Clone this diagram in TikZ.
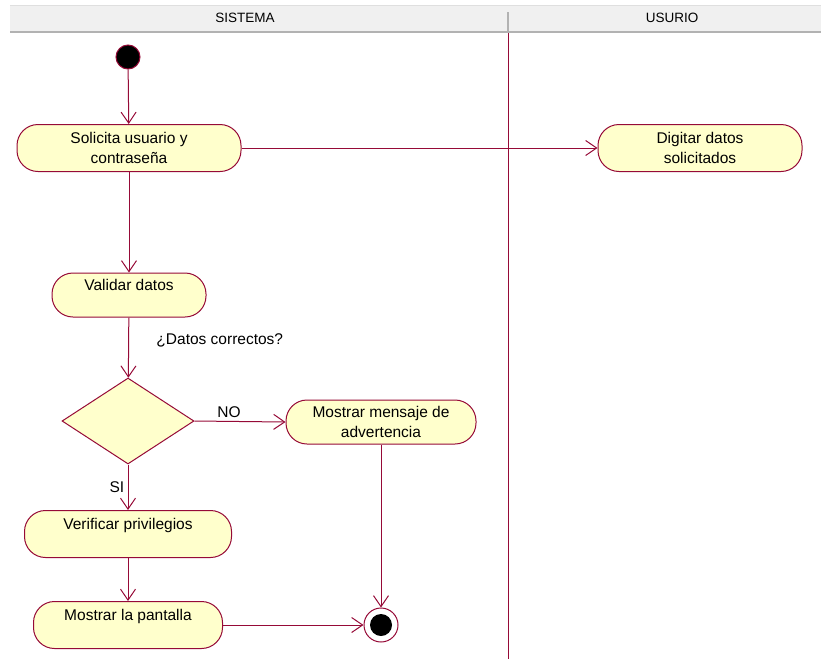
\documentclass[tikz,border=0pt]{standalone}
\usepackage{fontspec}
\setmainfont{Liberation Sans}
\usetikzlibrary{arrows.meta,shapes.geometric}
\definecolor{rose}{RGB}{150,10,55}
\definecolor{pale}{RGB}{255,255,204}

\begin{document}
\begin{tikzpicture}[x=1pt,y=-1pt,
  act/.style={draw=rose,line width=1pt,fill=pale,rounded corners=21pt,inner sep=0pt,align=center,
    font=\fontsize{15.5}{19.5}\selectfont},
  flow/.style={draw=rose,line width=1pt,-{Straight Barb[length=11pt,width=15pt]}},
  lbl/.style={font=\fontsize{15.5}{19}\selectfont}]
  \useasboundingbox (0,0) rectangle (821,659);
  \fill[gray!12] (10,5) rectangle (821,32);
  \draw[gray!25] (10,5) -- (821,5);
  \draw[gray!60,line width=2.5pt] (10,32) -- (821,32);
  \draw[gray!60,line width=1.5pt] (508,12) -- (508,32);
  \node[font=\fontsize{13.5}{15}\selectfont] (sistema) at (245,18) {SISTEMA};
  \node[font=\fontsize{13.5}{15}\selectfont] (usuario) at (672,18) {USURIO};
  \draw[rose,line width=1pt] (508,33) -- (508,659);
  \node[circle,draw=rose,line width=1pt,fill=black,minimum size=24pt,inner sep=0pt] (inicio) at (128,57) {};
  \node[act,minimum width=224pt,minimum height=47pt] (solicita) at (129,148) {Solicita usuario y\\contraseña};
  \node[act,minimum width=204pt,minimum height=47pt] (digitar) at (700,148) {Digitar datos\\solicitados};
  \node[act,minimum width=154pt,minimum height=44pt] (validar) at (129,295) {Validar datos\\\mbox{}};
  \node[diamond,draw=rose,line width=1pt,fill=pale,minimum width=132pt,minimum height=86pt,inner sep=0pt] (decide) at (128,421) {};
  \node[act,minimum width=190pt,minimum height=44pt] (mensaje) at (381,422) {Mostrar mensaje de\\advertencia};
  \node[act,minimum width=207pt,minimum height=47pt] (verificar) at (128,534) {Verificar privilegios\\\mbox{}};
  \node[act,minimum width=189pt,minimum height=47pt] (pantalla) at (128,625) {Mostrar la pantalla\\\mbox{}};
  \node[circle,draw=rose,line width=1pt,fill=white,minimum size=34pt,inner sep=0pt] (fin) at (381,625) {};
  \fill[black] (fin) circle[radius=11pt];
  \draw[flow] (inicio) -- (solicita);
  \draw[flow] (solicita.east) -- (digitar.west);
  \draw[flow] (solicita) -- (validar);
  \draw[flow] (validar) -- node[lbl,pos=0.38,anchor=west,xshift=24pt] {¿Datos correctos?} (decide);
  \draw[flow] (decide.east) -- node[lbl,pos=0.38,above] {NO} (mensaje.west);
  \draw[flow] (decide.south) -- node[lbl,pos=0.5,left] {SI} (verificar);
  \draw[flow] (verificar) -- (pantalla);
  \draw[flow] (mensaje) -- (fin);
  \draw[flow] (pantalla.east) -- (fin.west);
\end{tikzpicture}
\end{document}
